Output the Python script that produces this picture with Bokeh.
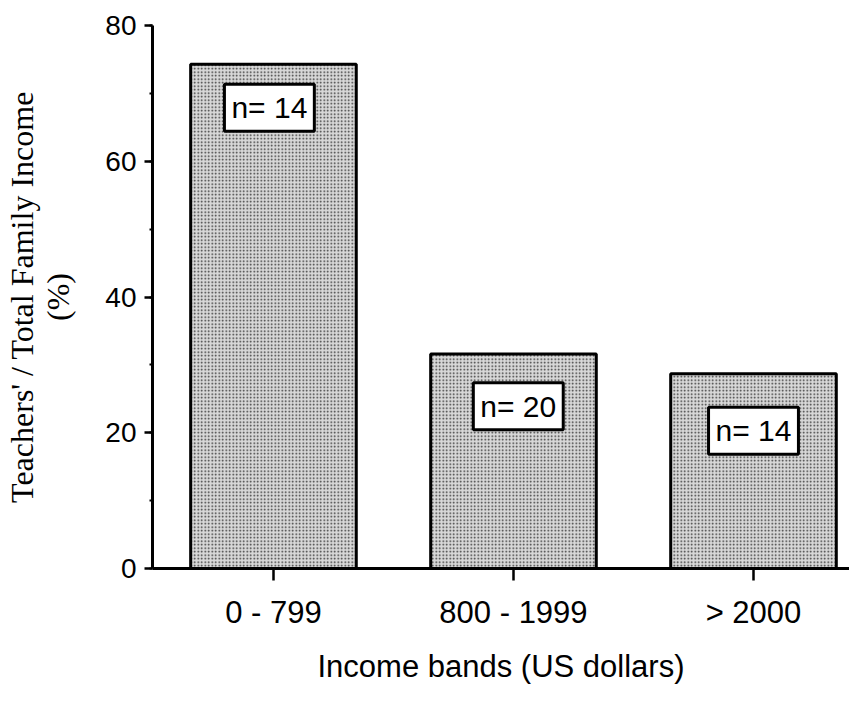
from bokeh.plotting import figure
from bokeh.models import SingleIntervalTicker, FixedTicker, Label, Range1d, ColumnDataSource
from bokeh.embed import file_html
from bokeh.resources import INLINE

categories = ["0 - 799", "800 - 1999", "> 2000"]
values = [74.3, 31.6, 28.7]
n_counts = [14, 20, 14]
n_label_y = [67.9, 23.9, 20.3]
n_label_dx = [-0.017, 0.02, 0.0]

xs = list(range(len(categories)))
src = ColumnDataSource(dict(x=xs, top=values))

p = figure(width=849, height=692, output_backend="svg", toolbar_location=None,
           x_range=Range1d(-0.504, 2.4), y_range=Range1d(0, 80),
           min_border_left=152, min_border_top=25, min_border_right=0, min_border_bottom=124)
p.outline_line_color = None
p.grid.grid_line_color = None
p.background_fill_color = "white"

p.vbar(x="x", top="top", width=0.69, bottom=0, source=src,
       fill_color="#d8d8d8", line_color="black", line_width=3,
       hatch_pattern=".", hatch_color="#333333", hatch_scale=3.5, hatch_weight=1.5)

for i, (n, y) in enumerate(zip(n_counts, n_label_y)):
    p.add_layout(Label(x=xs[i] + n_label_dx[i], y=y, text=f"n= {n}",
                       text_align="center", text_baseline="middle",
                       text_font="Liberation Sans", text_font_size="30px",
                       text_color="black", background_fill_color="white",
                       border_line_color="black", border_line_width=3,
                       padding=7))

TXT = "black"
xa = p.xaxis[0]
xa.ticker = FixedTicker(ticks=xs)
xa.major_label_overrides = {i: c for i, c in zip(xs, categories)}
xa.axis_label = "Income bands (US dollars)"
xa.axis_label_text_font = "Liberation Sans"
xa.axis_label_text_font_style = "normal"
xa.axis_label_text_font_size = "31px"
xa.axis_label_text_color = TXT
xa.axis_label_standoff = 16
xa.major_label_text_font = "Liberation Sans"
xa.major_label_text_font_size = "31px"
xa.major_label_text_color = TXT
xa.major_label_standoff = 14
xa.axis_line_width = 3
xa.major_tick_line_width = 2.5
xa.major_tick_out = 12
xa.major_tick_in = 0
xa.minor_tick_out = 0

ya = p.yaxis[0]
ya.ticker = SingleIntervalTicker(interval=20, num_minor_ticks=2)
ya.axis_label = "Teachers' / Total Family Income\n(%)"
ya.axis_label_text_font = "Liberation Serif"
ya.axis_label_text_font_style = "normal"
ya.axis_label_text_font_size = "32px"
ya.axis_label_text_line_height = 1.0
ya.axis_label_text_color = TXT
ya.axis_label_standoff = 26
ya.major_label_text_font = "Liberation Sans"
ya.major_label_text_font_size = "28px"
ya.major_label_text_color = TXT
ya.major_label_standoff = 8
ya.axis_line_width = 3
ya.major_tick_line_width = 2.5
ya.major_tick_out = 8
ya.major_tick_in = 0
ya.minor_tick_out = 3
ya.minor_tick_in = 0
ya.minor_tick_line_width = 2

open("out.html", "w").write(file_html(p, INLINE))
